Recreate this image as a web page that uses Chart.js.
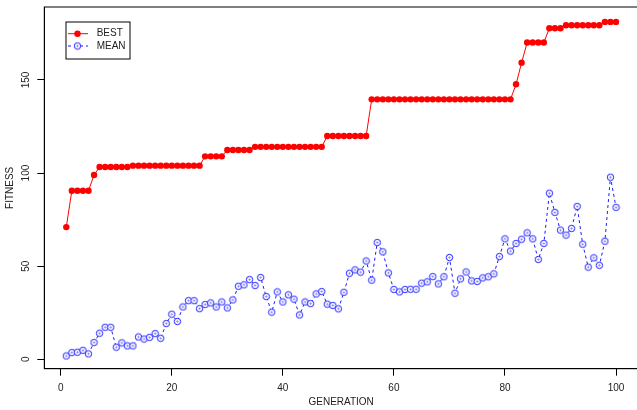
<!DOCTYPE html>
<html>
<head>
<meta charset="utf-8">
<script src="https://cdn.jsdelivr.net/npm/chart.js@4.4.1/dist/chart.umd.min.js"></script>
<style>
  html, body { margin: 0; padding: 0; background: #fff; overflow: hidden; }
  #wrap { position: relative; width: 643px; height: 410px; }
</style>
</head>
<body>
<div id="wrap"><canvas id="fitnessChart"></canvas></div>
<script>
const generations = [
  1, 2, 3, 4, 5, 6, 7, 8, 9, 10, 11, 12, 13, 14, 15, 16, 17, 18, 19, 20,
  21, 22, 23, 24, 25, 26, 27, 28, 29, 30, 31, 32, 33, 34, 35, 36, 37, 38, 39, 40,
  41, 42, 43, 44, 45, 46, 47, 48, 49, 50, 51, 52, 53, 54, 55, 56, 57, 58, 59, 60,
  61, 62, 63, 64, 65, 66, 67, 68, 69, 70, 71, 72, 73, 74, 75, 76, 77, 78, 79, 80,
  81, 82, 83, 84, 85, 86, 87, 88, 89, 90, 91, 92, 93, 94, 95, 96, 97, 98, 99, 100
];
const best = [
  71, 90.5, 90.5, 90.5, 90.5, 99, 103.3, 103.3, 103.3, 103.3,
  103.3, 103.3, 104, 104, 104, 104, 104, 104, 104, 104,
  104, 104, 104, 104, 104, 109, 109, 109, 109, 112.4,
  112.4, 112.4, 112.4, 112.4, 114.1, 114.1, 114.1, 114.1, 114.1, 114.1,
  114.1, 114.1, 114.1, 114.1, 114.1, 114.1, 114.1, 119.9, 119.9, 119.9,
  119.9, 119.9, 119.9, 119.9, 119.9, 139.6, 139.6, 139.6, 139.6, 139.6,
  139.6, 139.6, 139.6, 139.6, 139.6, 139.6, 139.6, 139.6, 139.6, 139.6,
  139.6, 139.6, 139.6, 139.6, 139.6, 139.6, 139.6, 139.6, 139.6, 139.6,
  139.6, 147.7, 159.3, 170.1, 170.1, 170.1, 170.1, 177.8, 177.8, 177.8,
  179.4, 179.4, 179.4, 179.4, 179.4, 179.4, 179.4, 181.2, 181.2, 181.2
];
const mean = [
  1.8, 3.6, 3.8, 4.8, 2.9, 9.0, 14.0, 17.2, 17.2, 6.5,
  8.8, 7.2, 7.2, 12.0, 10.9, 11.8, 13.8, 11.3, 19.2, 24.2,
  20.3, 28.1, 31.5, 31.5, 27.2, 29.4, 30.3, 28.1, 30.8, 27.6,
  31.9, 39.2, 40.0, 42.8, 39.6, 43.9, 33.7, 25.3, 36.2, 30.8,
  34.6, 32.3, 23.8, 30.8, 29.9, 35.1, 36.4, 29.6, 28.9, 27.1,
  36.0, 46.2, 48.0, 46.8, 52.8, 42.5, 62.7, 57.7, 46.4, 37.5,
  36.2, 37.5, 37.6, 37.6, 40.9, 41.6, 44.4, 40.5, 44.3, 54.7,
  35.5, 43.2, 46.9, 42.1, 41.8, 43.7, 44.3, 45.9, 55.2, 64.7,
  58.1, 62.2, 64.5, 67.9, 64.7, 53.6, 62.2, 89.2, 78.9, 69.4,
  66.7, 70.3, 82.1, 61.8, 49.5, 54.5, 50.5, 63.4, 97.8, 81.6
];
const xTicks = [0, 20, 40, 60, 80, 100];
const yTicks = [0, 50, 100, 150];

const FONT = '"Liberation Sans", Arial, Helvetica, sans-serif';
const TEXT = "#222";
const RED = "#ff0000";
const BLUE = "#1a1aff";

// R style "circle" marker for the MEAN series
function meanMarker() {
  const c = document.createElement("canvas");
  c.width = 9;
  c.height = 9;
  const g = c.getContext("2d");
  g.fillStyle = "#fff";
  g.beginPath();
  g.arc(4.5, 4.5, 3.2, 0, Math.PI * 2);
  g.fill();
  g.strokeStyle = BLUE;
  g.lineWidth = 1;
  g.stroke();
  g.globalAlpha = 0.35;
  g.beginPath();
  g.moveTo(3, 4.5); g.lineTo(6, 4.5);
  g.moveTo(4.5, 3); g.lineTo(4.5, 6);
  g.stroke();
  return c;
}

const rPlotExtras = {
  id: "rPlotExtras",
  afterDraw(chart) {
    const { ctx, chartArea: a } = chart;
    const y = chart.scales.y;
    ctx.save();
    // plot box
    ctx.strokeStyle = "#000";
    ctx.lineWidth = 1;
    ctx.strokeRect(a.left, a.top, a.right - a.left, a.bottom - a.top);

    // y tick labels, parallel to the axis
    ctx.fillStyle = TEXT;
    ctx.font = "10px " + FONT;
    ctx.textAlign = "center";
    ctx.textBaseline = "middle";
    y.ticks.forEach((t) => {
      ctx.save();
      ctx.translate(a.left - 17.6, y.getPixelForValue(t.value));
      ctx.rotate(-Math.PI / 2);
      ctx.fillText(String(t.value), 0, 0);
      ctx.restore();
    });

    // legend box
    const bx = a.left + 21.7;
    const by = a.top + 15;
    ctx.fillStyle = "#fff";
    ctx.fillRect(bx, by, 64, 37);
    ctx.strokeStyle = "#000";
    ctx.strokeRect(bx, by, 64, 37);
    chart.data.datasets.forEach((ds, i) => {
      const ry = by + 11.7 + i * 12.3;
      ctx.strokeStyle = ds.borderColor;
      ctx.lineWidth = 1;
      ctx.setLineDash(ds.borderDash || []);
      ctx.beginPath();
      ctx.moveTo(bx + 2, ry);
      ctx.lineTo(bx + 22, ry);
      ctx.stroke();
      ctx.setLineDash([]);
      ctx.fillStyle = ds.pointBackgroundColor;
      ctx.strokeStyle = ds.pointBorderColor;
      Chart.helpers.drawPoint(ctx, {
        pointStyle: ds.pointStyle,
        radius: ds.pointRadius,
        rotation: 0,
        borderWidth: ds.pointBorderWidth
      }, bx + 11.5, ry);
      ctx.fillStyle = TEXT;
      ctx.font = "10px " + FONT;
      ctx.textAlign = "left";
      ctx.textBaseline = "middle";
      ctx.fillText(ds.label, bx + 30.7, ry);
    });
    ctx.restore();
  }
};

const ctx = document.getElementById("fitnessChart").getContext("2d");
new Chart(ctx, {
  type: "line",
  data: {
    datasets: [
      {
        label: "BEST",
        data: generations.map((g, i) => ({ x: g, y: best[i] })),
        borderColor: RED,
        backgroundColor: RED,
        borderWidth: 1,
        tension: 0,
        pointStyle: "circle",
        pointRadius: 3.2,
        pointBackgroundColor: RED,
        pointBorderColor: RED,
        pointBorderWidth: 0,
        fill: false
      },
      {
        label: "MEAN",
        data: generations.map((g, i) => ({ x: g, y: mean[i] })),
        borderColor: BLUE,
        backgroundColor: BLUE,
        borderWidth: 1,
        borderDash: [3, 3],
        tension: 0,
        pointStyle: meanMarker(),
        pointRadius: 3.3,
        pointBackgroundColor: BLUE,
        pointBorderColor: BLUE,
        pointBorderWidth: 1,
        fill: false
      }
    ]
  },
  options: {
    responsive: true,
    maintainAspectRatio: false,
    animation: false,
    events: [],
    layout: { padding: { top: 7, right: 0.5, left: 0, bottom: 0 } },
    plugins: {
      legend: { display: false },
      tooltip: { enabled: false }
    },
    scales: {
      x: {
        type: "linear",
        min: -2.96,
        max: 103.96,
        afterBuildTicks: (scale) => {
          scale.ticks = xTicks.map((v) => ({ value: v }));
        },
        afterFit: (scale) => {
          scale.height = 41.3;
        },
        grid: {
          display: true,
          drawOnChartArea: false,
          drawTicks: true,
          tickLength: 7,
          color: "#000",
          lineWidth: 1
        },
        border: { display: true, color: "#000", width: 1 },
        ticks: {
          color: TEXT,
          font: { family: FONT, size: 10 },
          padding: 7,
          maxRotation: 0
        },
        title: {
          display: true,
          text: "GENERATION",
          color: TEXT,
          font: { family: FONT, size: 10 },
          padding: { top: 0, bottom: 1.5 }
        }
      },
      y: {
        type: "linear",
        min: -5.05,
        max: 189.2,
        afterBuildTicks: (scale) => {
          scale.ticks = yTicks.map((v) => ({ value: v }));
        },
        afterFit: (scale) => {
          scale.width = 44.3;
        },
        grid: {
          display: true,
          drawOnChartArea: false,
          drawTicks: true,
          tickLength: 7,
          color: "#000",
          lineWidth: 1
        },
        border: { display: true, color: "#000", width: 1 },
        ticks: { display: false },
        title: {
          display: true,
          text: "FITNESS",
          color: TEXT,
          font: { family: FONT, size: 10 },
          padding: { top: 4, bottom: 0 }
        }
      }
    }
  },
  plugins: [rPlotExtras]
});
</script>
</body>
</html>
